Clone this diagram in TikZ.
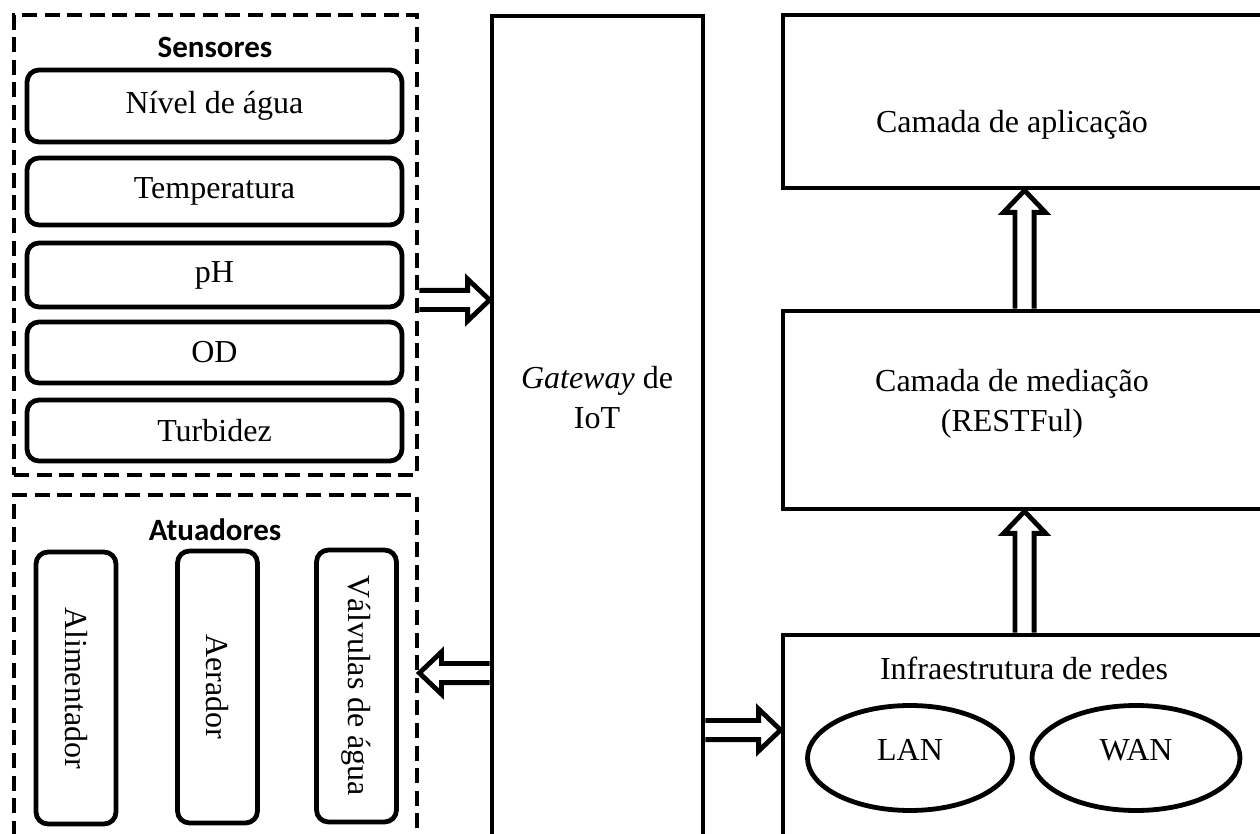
\documentclass[tikz,border=0pt]{standalone}
\usepackage{fontspec}
\setmainfont{Liberation Serif}
\newfontfamily\headfont{Carlito}
\usetikzlibrary{calc,shapes.geometric}

\tikzset{
	boxline/.style={draw, line width=2.4pt, inner sep=0pt},
	sensbox/.style={boxline, rounded corners=6pt, minimum width=187.5pt},
	actbox/.style={boxline, rounded corners=6pt, rotate=-90, minimum width=136pt, minimum height=40pt},
	groupbox/.style={draw, line width=2.4pt, dash pattern=on 7.5pt off 3.8pt, minimum width=201.5pt},
	layerbox/.style={boxline, minimum width=241.5pt},
	netbox/.style={boxline, ellipse, minimum height=52.5pt, text depth=8pt},
	heading/.style={font=\headfont\bfseries\fontsize{15.5}{18}\selectfont},
	arrowline/.style={line width=2.4pt, line join=miter}
}
\newcommand{\blockarrow}[2]{%
	\coordinate (neck) at ($(#2)!11pt!(#1)$);
	\draw[arrowline] ($(#1)!4.8pt!90:(#2)$) -- ($(neck)!4.8pt!-90:(#1)$) -- ($(neck)!10.5pt!-90:(#1)$) -- (#2) -- ($(neck)!10.5pt!90:(#1)$) -- ($(neck)!4.8pt!90:(#1)$) -- ($(#1)!4.8pt!-90:(#2)$);}

\begin{document}
\begin{tikzpicture}[x=0.5pt, y=-0.5pt, font=\fontsize{16}{20}\selectfont]
	\useasboundingbox (0,0) rectangle (1260,834);
	\clip (0,0) rectangle (1260,834);
	\node[groupbox, minimum height=230pt] (sens) at (215.5,245) {};
	\node[heading] (senstitle) at (215,47) {Sensores};
	\node[sensbox, minimum height=36pt] (nivel) at (214.5,106) {Nível de água};
	\node[sensbox, minimum height=33.5pt] (temp) at (214.5,191.5) {Temperatura};
	\node[sensbox, minimum height=32pt] (ph) at (214.5,275) {pH};
	\node[sensbox, minimum height=30.5pt] (od) at (214.5,352.5) {OD};
	\node[sensbox, minimum height=30.5pt] (turb) at (214.5,430.5) {Turbidez};
	\node[groupbox, minimum height=202.5pt] (act) at (215.5,697.5) {};
	\node[heading] (acttitle) at (215,530) {Atuadores};
	\node[actbox] (alim) at (76,688) {Alimentador};
	\node[actbox] (aer) at (217.5,687) {Aerador};
	\node[actbox] (valv) at (356.5,686) {Válvulas de água};
	\node[boxline, minimum width=105.5pt, minimum height=442pt] (gw) at (597.5,458) {};
	\node[align=center] (gwtext) at (597,398) {\textit{Gateway} de\\IoT};
	\node[layerbox, minimum height=86.5pt] (app) at (1024.5,101.5) {};
	\node (apptext) at (1012,125) {Camada de aplicação};
	\node[layerbox, minimum height=99pt] (med) at (1024.5,410) {};
	\node[align=center] (medtext) at (1012,404) {Camada de mediação\\(RESTFul)};
	\node[layerbox, minimum height=132.5pt] (infra) at (1024.5,767.5) {};
	\node (infratext) at (1024,668) {Infraestrutura de redes};
	\node[netbox, minimum width=102.5pt] (lan) at (910,758) {LAN};
	\node[netbox, minimum width=104pt] (wan) at (1136,758) {WAN};
	\blockarrow{sens.east |- 0,300}{gw.west |- 0,300}
	\blockarrow{gw.west |- 0,673}{act.east |- 0,673}
	\blockarrow{gw.east |- 0,730}{infra.west |- 0,730}
	\blockarrow{infra.north}{med.south}
	\blockarrow{med.north}{app.south}
\end{tikzpicture}
\end{document}
